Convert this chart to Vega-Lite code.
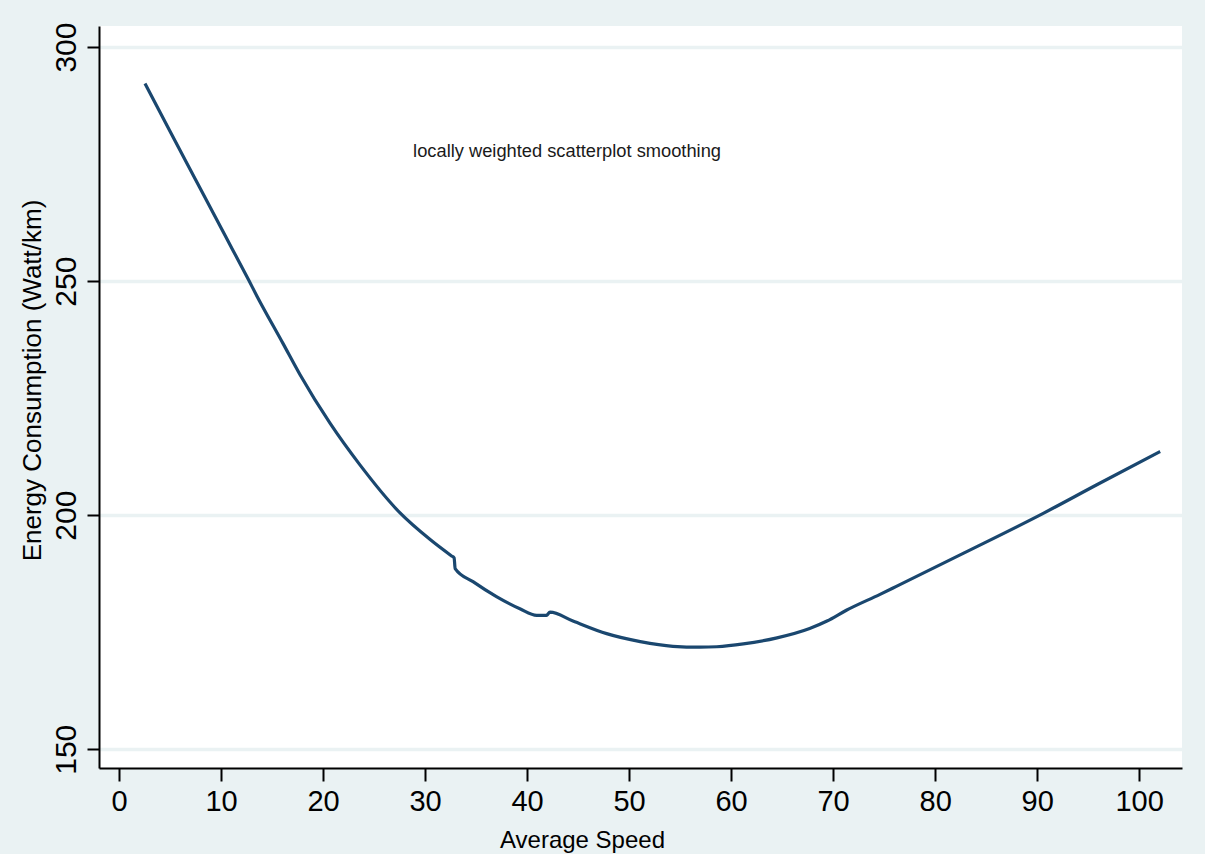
{
  "$schema": "https://vega.github.io/schema/vega-lite/v6.json",
  "width": 1083,
  "height": 742,
  "autosize": {"type": "none"},
  "padding": {"left": 99, "top": 26, "right": 23, "bottom": 86},
  "background": "#EAF2F3",
  "config": {
    "view": {"fill": "white", "stroke": null},
    "font": "Liberation Sans",
    "axis": {
      "domainColor": "black",
      "domainWidth": 2,
      "tickColor": "black",
      "tickWidth": 2,
      "labelColor": "black",
      "titleColor": "black",
      "titleFontWeight": "normal",
      "labelFont": "Liberation Sans",
      "titleFont": "Liberation Sans"
    }
  },
  "layer": [
    {
      "data": {
        "values": [
          {"order": 1, "speed": 2.55, "energy": 292.2},
          {"order": 2, "speed": 5.0, "energy": 282.0},
          {"order": 3, "speed": 7.94, "energy": 269.9},
          {"order": 4, "speed": 10.39, "energy": 259.8},
          {"order": 5, "speed": 12.75, "energy": 250.06},
          {"order": 6, "speed": 13.5, "energy": 246.9},
          {"order": 7, "speed": 16.1, "energy": 236.6},
          {"order": 8, "speed": 17.75, "energy": 230.0},
          {"order": 9, "speed": 20.7, "energy": 219.6},
          {"order": 10, "speed": 23.6, "energy": 210.8},
          {"order": 11, "speed": 27.5, "energy": 200.6},
          {"order": 12, "speed": 30.5, "energy": 194.8},
          {"order": 13, "speed": 32.6, "energy": 191.3},
          {"order": 14, "speed": 32.85, "energy": 190.9},
          {"order": 15, "speed": 32.95, "energy": 188.6},
          {"order": 16, "speed": 34.7, "energy": 185.8},
          {"order": 17, "speed": 37.0, "energy": 182.6},
          {"order": 18, "speed": 39.3, "energy": 180.0},
          {"order": 19, "speed": 40.95, "energy": 178.6},
          {"order": 20, "speed": 41.9, "energy": 178.6},
          {"order": 21, "speed": 42.25, "energy": 179.3},
          {"order": 22, "speed": 44.5, "energy": 177.4},
          {"order": 23, "speed": 47.8, "energy": 174.7},
          {"order": 24, "speed": 51.1, "energy": 173.0},
          {"order": 25, "speed": 54.3, "energy": 172.0},
          {"order": 26, "speed": 56.96, "energy": 171.8},
          {"order": 27, "speed": 58.6, "energy": 171.9},
          {"order": 28, "speed": 61.2, "energy": 172.5},
          {"order": 29, "speed": 64.5, "energy": 173.8},
          {"order": 30, "speed": 67.7, "energy": 175.8},
          {"order": 31, "speed": 69.4, "energy": 177.4},
          {"order": 32, "speed": 71.3, "energy": 179.7},
          {"order": 33, "speed": 74.6, "energy": 183.1},
          {"order": 34, "speed": 76.2, "energy": 184.8},
          {"order": 35, "speed": 82.8, "energy": 191.9},
          {"order": 36, "speed": 90.6, "energy": 200.4},
          {"order": 37, "speed": 95.85, "energy": 206.5},
          {"order": 38, "speed": 102.06, "energy": 213.6}
        ]
      },
      "mark": {"type": "line", "color": "#1A476F", "strokeWidth": 3.2, "interpolate": "monotone"},
      "encoding": {
        "x": {
          "field": "speed",
          "type": "quantitative",
          "scale": {"domain": [-1.96, 104.2], "nice": false, "zero": false},
          "axis": {
            "title": "Average Speed",
            "titleFontSize": 24,
            "titleX": 483,
            "titlePadding": 12,
            "values": [0, 10, 20, 30, 40, 50, 60, 70, 80, 90, 100],
            "grid": false,
            "labelFontSize": 29,
            "labelPadding": 6,
            "tickSize": 13
          }
        },
        "y": {
          "field": "energy",
          "type": "quantitative",
          "scale": {"domain": [146, 304.5], "nice": false, "zero": false},
          "axis": {
            "title": "Energy Consumption (Watt/km)",
            "titleFontSize": 26,
            "titleY": 354,
            "titlePadding": 6,
            "values": [150, 200, 250, 300],
            "grid": true,
            "gridColor": "#EAF2F3",
            "gridWidth": 3.5,
            "labelAngle": -90,
            "labelFontSize": 30,
            "labelPadding": 6,
            "tickSize": 12
          }
        },
        "order": {"field": "order", "type": "quantitative"}
      }
    },
    {
      "data": {
        "values": [
          {"speed": 43.92, "energy": 277.6, "label": "locally weighted scatterplot smoothing"}
        ]
      },
      "mark": {"type": "text", "fontSize": 18.3, "color": "#1a1a1a", "baseline": "middle", "align": "center"},
      "encoding": {
        "x": {"field": "speed", "type": "quantitative"},
        "y": {"field": "energy", "type": "quantitative"},
        "text": {"field": "label"}
      }
    }
  ]
}
